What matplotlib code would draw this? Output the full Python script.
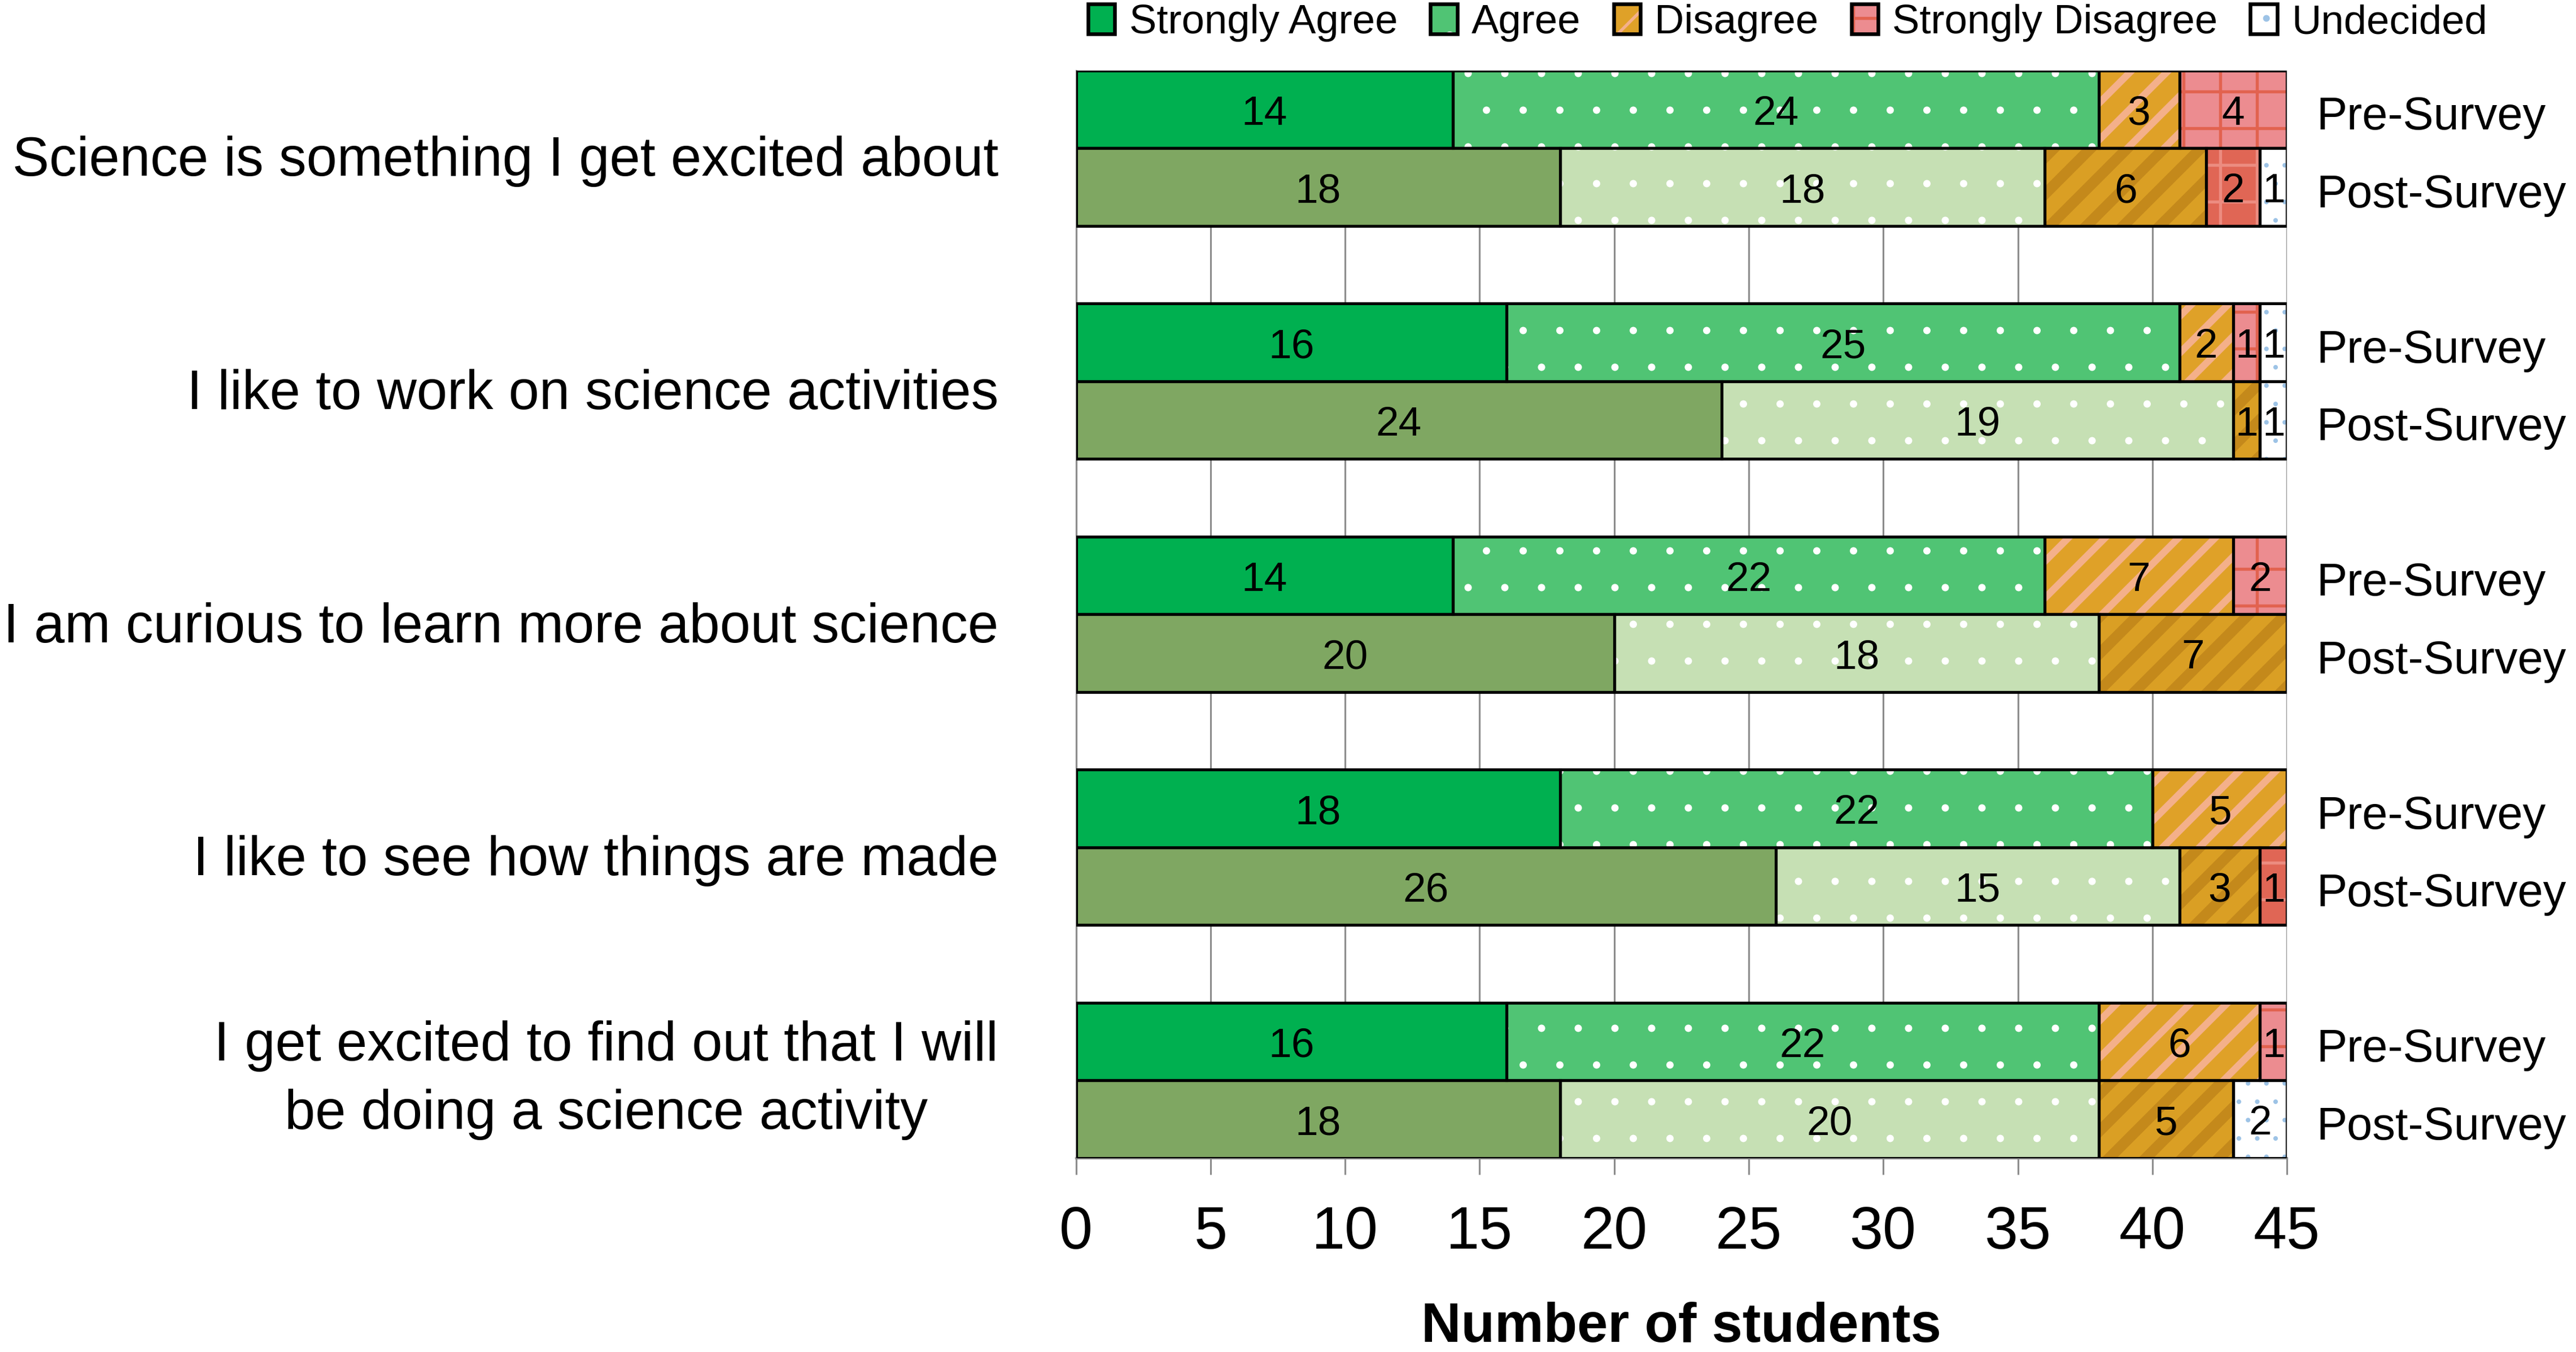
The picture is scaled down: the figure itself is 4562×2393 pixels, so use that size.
import matplotlib
matplotlib.use('Agg')
import matplotlib.pyplot as plt
from matplotlib.patches import Patch
import matplotlib.transforms as mtransforms

plt.rcParams['font.family'] = ['Liberation Sans', 'DejaVu Sans']

# ---------------- data ----------------
statements = [
    "Science is something I get excited about",
    "I like to work on science activities",
    "I am curious to learn more about science",
    "I like to see how things are made",
    "I get excited to find out that I will\nbe doing a science activity",
]
categories = ["Strongly Agree", "Agree", "Disagree", "Strongly Disagree", "Undecided"]
surveys = ["Pre-Survey", "Post-Survey"]

pre_strongly_agree = [14, 16, 14, 18, 16]
pre_agree = [24, 25, 22, 22, 22]
pre_disagree = [3, 2, 7, 5, 6]
pre_strongly_disagree = [4, 1, 2, 0, 1]
pre_undecided = [0, 1, 0, 0, 0]

post_strongly_agree = [18, 24, 20, 26, 18]
post_agree = [18, 19, 18, 15, 20]
post_disagree = [6, 1, 7, 3, 5]
post_strongly_disagree = [2, 0, 0, 1, 0]
post_undecided = [1, 1, 0, 0, 2]

xticks = [0, 5, 10, 15, 20, 25, 30, 35, 40, 45]
x_max = 45

pre_data = [pre_strongly_agree, pre_agree, pre_disagree, pre_strongly_disagree, pre_undecided]
post_data = [post_strongly_agree, post_agree, post_disagree, post_strongly_disagree, post_undecided]

# styles: (face, hatch, hatch colour, hatch linewidth)
pre_styles = [
    ('#00B050', None, None, 0),
    ('#50C474', '.', 'white', 0.0),
    ('#DFA128', '//', '#F4B08A', 2.3),
    ('#EC8C90', '+', '#E2624F', 1.0),
    ('white', '..', '#9DC3E6', 0.3),
]
post_styles = [
    ('#7FA762', None, None, 0),
    ('#C6E0B4', '.', 'white', 0.0),
    ('#DA9F24', '//', '#C4891B', 3.5),
    ('#E06655', '+', '#EC8C80', 1.0),
    ('white', '..', '#9DC3E6', 0.3),
]

DPI = 390
fig = plt.figure(figsize=(4562 / DPI, 2393 / DPI), dpi=DPI)
ax = fig.add_axes([0.4177, 0.1434, 0.4701, 0.8044])

n = len(statements)
y_pre = [3 * i + 0.5 for i in range(n)]
y_post = [3 * i + 1.5 for i in range(n)]
y_center = [3 * i + 1.0 for i in range(n)]


def with_hatch_lw(artist, lw):
    orig = artist.draw

    def draw(renderer, _orig=orig, _lw=lw):
        with plt.rc_context({'hatch.linewidth': _lw}):
            _orig(renderer)
    artist.draw = draw
    if hasattr(artist, 'set_hatch_linewidth'):
        try:
            artist.set_hatch_linewidth(lw)
        except Exception:
            pass


def draw_stack(ypos, data, styles):
    left = [0] * n
    for vals, (face, hatch, hcol, hlw) in zip(data, styles):
        ax.barh(ypos, vals, left=left, height=1.0, color=face,
                edgecolor='none', linewidth=0, zorder=2)
        if hatch:
            with plt.rc_context({'hatch.linewidth': hlw}):
                hb = ax.barh(ypos, vals, left=left, height=1.0, facecolor='none',
                             edgecolor=hcol, linewidth=0, hatch=hatch, zorder=3)
            for p in hb:
                with_hatch_lw(p, hlw)
        eb = ax.barh(ypos, vals, left=left, height=1.0, facecolor='none',
                     edgecolor='black', linewidth=0.95, zorder=4)
        texts = ax.bar_label(eb, labels=[str(v) if v else '' for v in vals],
                             label_type='center', fontsize=13.5, color='black', zorder=5)
        for t in texts:
            t.xyann = (0, -1.6)
        left = [a + b for a, b in zip(left, vals)]


draw_stack(y_pre, pre_data, pre_styles)
draw_stack(y_post, post_data, post_styles)

ax.set_xlim(0, x_max)
ax.set_ylim(3 * n - 1, 0)
ax.set_xticks(xticks)
ax.set_xticklabels([str(t) for t in xticks])
ax.set_yticks(y_center)
ax.set_yticklabels([])

ax.grid(axis='x', color='#8C8C8C', linewidth=0.58, zorder=0)
ax.set_axisbelow(True)
for s in ['top', 'right']:
    ax.spines[s].set_visible(False)
ax.spines['left'].set_color('#8C8C8C')
ax.spines['left'].set_linewidth(0.58)
ax.spines['bottom'].set_color('#8C8C8C')
ax.spines['bottom'].set_linewidth(0.77)

ax.tick_params(axis='x', direction='out', length=5.4, width=0.58, color='#8C8C8C',
               pad=10, labelsize=19.6)
ax.tick_params(axis='y', length=0)
ax.set_xlabel('Number of students', fontsize=18.0, fontweight='bold', labelpad=13.2)

trans = mtransforms.blended_transform_factory(ax.transAxes, ax.transData)

# statement labels on the left
for yc, text in zip(y_center, statements):
    dy = 0.0 if '\n' in text else -4.3
    ax.annotate(text, xy=(0, yc), xycoords=trans, xytext=(-25.4, dy),
                textcoords='offset points', ha='right', va='center',
                multialignment='center', fontsize=18.0, linespacing=1.42,
                annotation_clip=False)

# survey labels on the right
for yp, yq in zip(y_pre, y_post):
    ax.annotate(surveys[0], xy=(1, yp), xycoords=trans, xytext=(9.6, -2.7),
                textcoords='offset points', ha='left', va='center', fontsize=15.0,
                annotation_clip=False)
    ax.annotate(surveys[1], xy=(1, yq), xycoords=trans, xytext=(9.6, -2.7),
                textcoords='offset points', ha='left', va='center', fontsize=15.0,
                annotation_clip=False)

# legend
handles = []
for face, hatch, hcol, hlw in pre_styles:
    parts = [Patch(facecolor=face, edgecolor='none', linewidth=0)]
    if hatch:
        hp = Patch(facecolor='none', edgecolor=hcol, hatch=hatch, linewidth=0)
        parts.append(hp)
    parts.append(Patch(facecolor='none', edgecolor='black', linewidth=1.2))
    handles.append(tuple(parts))

fig.legend(handles, categories, loc='center', bbox_to_anchor=(0.694, 0.983),
           ncol=5, frameon=False, fontsize=13.4, handlelength=0.65,
           handleheight=0.75, handletextpad=0.35, columnspacing=0.8,
           borderaxespad=0, borderpad=0)

fig.savefig('out.png', dpi=DPI)
